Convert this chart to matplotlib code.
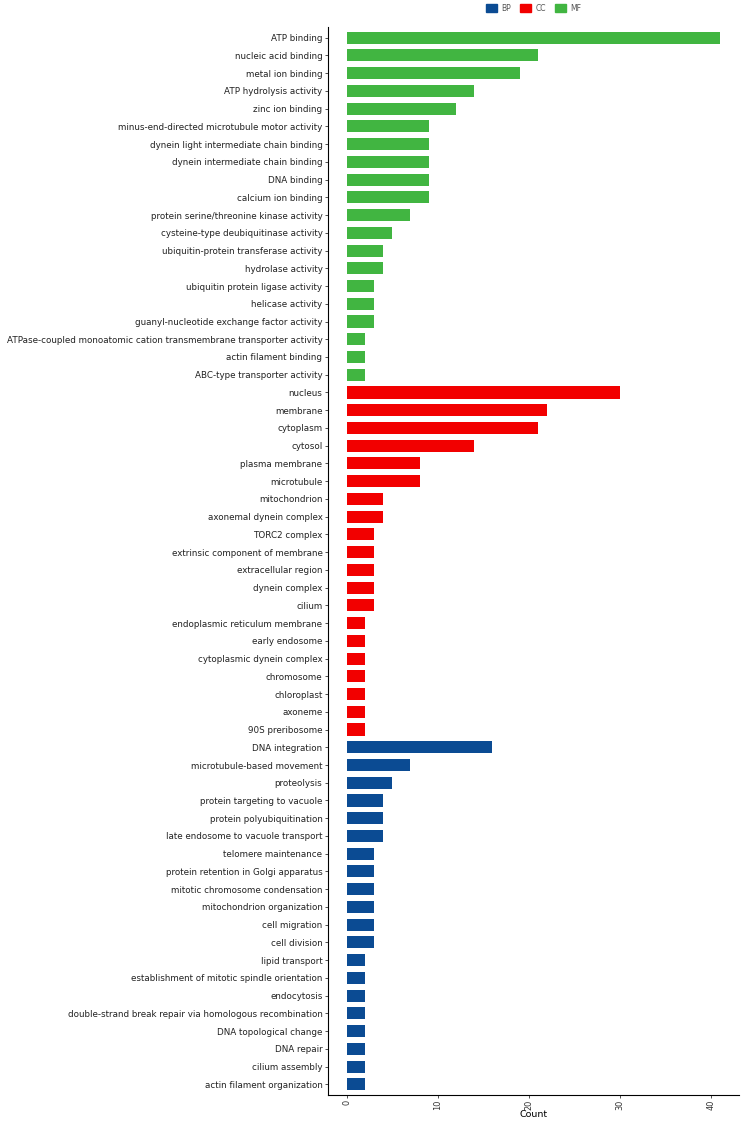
import numpy as np
import matplotlib.pyplot as plt
from matplotlib.patches import Patch

mf_terms = ["ATP binding", "nucleic acid binding", "metal ion binding", "ATP hydrolysis activity",
            "zinc ion binding", "minus-end-directed microtubule motor activity",
            "dynein light intermediate chain binding", "dynein intermediate chain binding",
            "DNA binding", "calcium ion binding", "protein serine/threonine kinase activity",
            "cysteine-type deubiquitinase activity", "ubiquitin-protein transferase activity",
            "hydrolase activity", "ubiquitin protein ligase activity", "helicase activity",
            "guanyl-nucleotide exchange factor activity",
            "ATPase-coupled monoatomic cation transmembrane transporter activity",
            "actin filament binding", "ABC-type transporter activity"]
mf_counts = [41, 21, 19, 14, 12, 9, 9, 9, 9, 9, 7, 5, 4, 4, 3, 3, 3, 2, 2, 2]

cc_terms = ["nucleus", "membrane", "cytoplasm", "cytosol", "plasma membrane", "microtubule",
            "mitochondrion", "axonemal dynein complex", "TORC2 complex",
            "extrinsic component of membrane", "extracellular region", "dynein complex", "cilium",
            "endoplasmic reticulum membrane", "early endosome", "cytoplasmic dynein complex",
            "chromosome", "chloroplast", "axoneme", "90S preribosome"]
cc_counts = [30, 22, 21, 14, 8, 8, 4, 4, 3, 3, 3, 3, 3, 2, 2, 2, 2, 2, 2, 2]

bp_terms = ["DNA integration", "microtubule-based movement", "proteolysis",
            "protein targeting to vacuole", "protein polyubiquitination",
            "late endosome to vacuole transport", "telomere maintenance",
            "protein retention in Golgi apparatus", "mitotic chromosome condensation",
            "mitochondrion organization", "cell migration", "cell division", "lipid transport",
            "establishment of mitotic spindle orientation", "endocytosis",
            "double-strand break repair via homologous recombination", "DNA topological change",
            "DNA repair", "cilium assembly", "actin filament organization"]
bp_counts = [16, 7, 5, 4, 4, 4, 3, 3, 3, 3, 3, 3, 2, 2, 2, 2, 2, 2, 2, 2]

colors = {"BP": "#0b4b93", "CC": "#f20000", "MF": "#41b541"}

terms = mf_terms + cc_terms + bp_terms
counts = mf_counts + cc_counts + bp_counts
groups = ["MF"] * len(mf_terms) + ["CC"] * len(cc_terms) + ["BP"] * len(bp_terms)

fig = plt.figure(figsize=(7.41, 11.22), dpi=100)
ax = fig.add_axes([0.4427, 0.0241, 0.5543, 0.9518])

n = len(terms)
ypos = np.arange(n)[::-1]
ax.barh(ypos, counts, height=0.68, color=[colors[g] for g in groups])

ax.set_yticks(ypos)
ax.set_yticklabels(terms, fontsize=6.3, color="#222222")
ax.set_ylim(-0.6, n - 0.4)
xmax = max(counts)
ax.set_xlim(-0.05 * xmax, 1.05 * xmax)
ax.set_xticks([0, 10, 20, 30, 40])
ax.set_xticklabels(["0", "10", "20", "30", "40"], rotation=90, fontsize=5.9, color="#333333")
ax.set_xlabel("Count", fontsize=6.8, va="top")
ax.xaxis.set_label_coords(0.5, -0.0138)

for s in ["top", "right"]:
    ax.spines[s].set_visible(False)
ax.spines["left"].set_linewidth(0.8)
ax.spines["bottom"].set_linewidth(0.8)
ax.tick_params(axis="y", length=2.5, width=0.6, color="#333333", pad=1.5)
ax.tick_params(axis="x", length=2.2, width=0.6, color="#333333", pad=1.0)

handles = [Patch(color=colors[k]) for k in ["BP", "CC", "MF"]]
fig.legend(handles, ["BP", "CC", "MF"], loc="upper center", bbox_to_anchor=(0.72, 1.003),
           ncol=3, frameon=False, fontsize=5.5, handlelength=1.4, handleheight=1.2,
           columnspacing=1.2, handletextpad=0.6, labelcolor="#555555")

fig.savefig("out.png", dpi=100)
